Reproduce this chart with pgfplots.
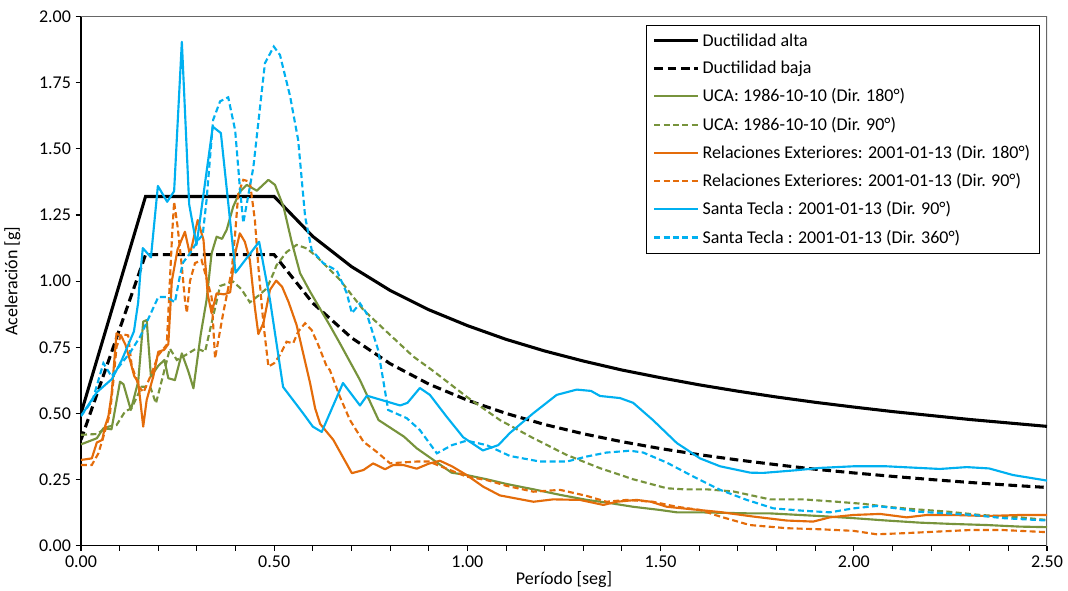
\documentclass[border=0pt]{standalone}
\usepackage{pgfplots}
\pgfplotsset{compat=1.18}
\usepackage{fontspec}
\setmainfont{Carlito}
\definecolor{cgreen}{HTML}{77933C}
\definecolor{corange}{HTML}{E46C0A}
\definecolor{ccyan}{HTML}{00B0F0}
\begin{document}
\begin{tikzpicture}
\useasboundingbox (-60.75pt,-34pt) rectangle (740.25pt,409.25pt);
\begin{axis}[
  scale only axis,
  width=724.5pt, height=396.75pt,
  xmin=0, xmax=2.5, ymin=0, ymax=2,
  axis x line*=bottom, axis y line*=left,
  axis line style={black, line width=1.1pt, -},
  xtick={0,0.5,1,1.5,2,2.5},
  minor xtick={0.1,0.2,0.3,0.4,0.6,0.7,0.8,0.9,1.1,1.2,1.3,1.4,1.6,1.7,1.8,1.9,2.1,2.2,2.3,2.4},
  ytick={0,0.25,0.5,0.75,1,1.25,1.5,1.75,2},
  tick align=outside,
  major tick length=4pt, minor tick length=4pt,
  tick style={black, line width=0.8pt},
  font=\fontsize{13.5}{16}\selectfont,
  ticklabel style={font=\fontsize{13.5}{16}\selectfont},
  /pgf/number format/assume math mode=true,
  /pgf/number format/fixed, /pgf/number format/fixed zerofill, /pgf/number format/precision=2,
  xlabel={Período [seg]}, ylabel={Aceleración [g]},
  xlabel style={font=\fontsize{13.5}{16}\selectfont, yshift=4pt},
  ylabel style={font=\fontsize{13.5}{16}\selectfont, yshift=7pt},
  legend cell align=left,
  legend style={at={(rel axis cs:0.9928,0.984)}, anchor=north east, draw=black, line width=0.8pt,
    font=\fontsize{13.5}{16}\selectfont, row sep=5.8pt, inner xsep=5pt, inner ysep=4pt},
  legend image code/.code={\draw[#1] (0pt,0pt) -- (33pt,0pt);},
]
\draw[gray!80!black, line width=0.8pt] (rel axis cs:0,1) -- (rel axis cs:1,1) -- (rel axis cs:1,0);
% Ductilidad alta
\addplot[black, line width=2.3pt] coordinates {
(0,0.5) (0.167,1.32) (0.5,1.32) (0.6,1.169) (0.7,1.055) (0.8,0.965) (0.9,0.892) (1.0,0.832)
(1.1,0.780) (1.2,0.736) (1.3,0.698) (1.4,0.664) (1.5,0.635) (1.6,0.608) (1.7,0.584) (1.8,0.562)
(1.9,0.542) (2.0,0.524) (2.1,0.507) (2.2,0.492) (2.3,0.477) (2.4,0.464) (2.5,0.451)};
\addlegendentry{Ductilidad alta}
% Ductilidad baja
\addplot[black, line width=2.3pt, dash pattern=on 6.5pt off 3.5pt] coordinates {
(0,0.4) (0.167,1.1) (0.5,1.1) (0.6,0.917) (0.7,0.786) (0.8,0.688) (0.9,0.611) (1.0,0.55)
(1.1,0.5) (1.2,0.458) (1.3,0.423) (1.4,0.393) (1.5,0.367) (1.6,0.344) (1.7,0.324) (1.8,0.306)
(1.9,0.289) (2.0,0.275) (2.1,0.262) (2.2,0.25) (2.3,0.239) (2.4,0.229) (2.5,0.22)};
\addlegendentry{Ductilidad baja}
% UCA 180
\addplot[cgreen, line width=1.6pt, line join=round] coordinates {
(0,0.383) (0.041,0.406) (0.058,0.444) (0.079,0.44) (0.101,0.62) (0.110,0.61) (0.129,0.513)
(0.148,0.62) (0.161,0.847) (0.170,0.853) (0.181,0.639) (0.200,0.68) (0.216,0.702) (0.226,0.633)
(0.243,0.626) (0.261,0.727) (0.278,0.658) (0.291,0.595) (0.310,0.80) (0.325,0.929) (0.338,1.105)
(0.351,1.168) (0.365,1.16) (0.377,1.194) (0.394,1.282) (0.411,1.338) (0.429,1.364) (0.455,1.342)
(0.485,1.383) (0.502,1.364) (0.524,1.282) (0.545,1.15) (0.567,1.03) (0.593,0.96) (0.621,0.89)
(0.645,0.83) (0.670,0.765) (0.722,0.626) (0.770,0.475) (0.836,0.412) (0.869,0.368) (0.912,0.324)
(0.959,0.276) (0.998,0.267) (1.050,0.251) (1.102,0.233) (1.171,0.213) (1.240,0.192) (1.309,0.173)
(1.360,0.163) (1.429,0.147) (1.498,0.135) (1.542,0.126) (1.602,0.126) (1.731,0.122) (1.783,0.122)
(1.912,0.112) (1.999,0.104) (2.085,0.095) (2.171,0.087) (2.257,0.082) (2.344,0.078) (2.430,0.072)
(2.50,0.070)};
\addlegendentry{UCA: 1986-10-10 (Dir. 180°)}
% UCA 90
\addplot[cgreen, line width=1.6pt, dash pattern=on 4.5pt off 2.5pt] coordinates {
(0,0.419) (0.040,0.422) (0.060,0.44) (0.071,0.45) (0.092,0.456) (0.114,0.507) (0.131,0.52)
(0.157,0.601) (0.179,0.601) (0.194,0.538) (0.230,0.745) (0.248,0.702) (0.270,0.72) (0.299,0.746)
(0.321,0.733) (0.360,0.982) (0.394,0.998) (0.415,0.97) (0.437,0.92) (0.459,0.945) (0.481,0.973)
(0.498,1.03) (0.506,1.06) (0.532,1.11) (0.558,1.137) (0.584,1.124) (0.610,1.093) (0.640,1.049)
(0.670,1.005) (0.731,0.891) (0.791,0.809) (0.860,0.715) (0.912,0.66) (0.998,0.563) (1.084,0.475)
(1.171,0.406) (1.257,0.343) (1.343,0.293) (1.429,0.251) (1.516,0.217) (1.560,0.213) (1.619,0.213)
(1.688,0.205) (1.783,0.175) (1.869,0.175) (1.956,0.166) (2.025,0.158) (2.085,0.147) (2.154,0.138)
(2.240,0.129) (2.327,0.116) (2.430,0.107) (2.50,0.097)};
\addlegendentry{UCA: 1986-10-10 (Dir. 90°)}
% RE 180
\addplot[corange, line width=1.6pt, line join=round] coordinates {
(0,0.324) (0.028,0.33) (0.041,0.39) (0.055,0.40) (0.062,0.45) (0.071,0.49) (0.079,0.57)
(0.092,0.803) (0.105,0.79) (0.115,0.76) (0.127,0.70) (0.138,0.64) (0.148,0.62) (0.161,0.45)
(0.170,0.551) (0.187,0.639) (0.200,0.733) (0.215,0.74) (0.226,0.762) (0.235,1.0) (0.250,1.12)
(0.269,1.187) (0.282,1.10) (0.302,1.231) (0.317,1.156) (0.328,0.95) (0.338,0.879) (0.351,0.954)
(0.370,0.95) (0.386,0.958) (0.399,1.105) (0.411,1.181) (0.424,1.149) (0.437,1.08) (0.450,0.90)
(0.459,0.80) (0.472,0.841) (0.489,0.967) (0.505,1.002) (0.520,0.98) (0.537,0.922) (0.558,0.834)
(0.575,0.727) (0.593,0.614) (0.606,0.519) (0.619,0.46) (0.653,0.40) (0.701,0.274) (0.731,0.286)
(0.756,0.311) (0.787,0.289) (0.808,0.305) (0.834,0.305) (0.869,0.291) (0.900,0.31) (0.929,0.321)
(0.960,0.30) (0.998,0.267) (1.041,0.223) (1.084,0.19) (1.171,0.166) (1.222,0.175) (1.291,0.173)
(1.352,0.154) (1.386,0.166) (1.438,0.173) (1.475,0.166) (1.516,0.147) (1.585,0.137) (1.654,0.127)
(1.740,0.11) (1.826,0.095) (1.895,0.091) (1.938,0.107) (1.999,0.116) (2.068,0.12) (2.137,0.107)
(2.189,0.116) (2.257,0.116) (2.344,0.112) (2.430,0.116) (2.50,0.116)};
\addlegendentry{Relaciones Exteriores: 2001-01-13 (Dir. 180°)}
% RE 90
\addplot[corange, line width=1.6pt, dash pattern=on 4.5pt off 2.5pt] coordinates {
(0,0.305) (0.028,0.305) (0.045,0.349) (0.058,0.412) (0.075,0.50) (0.084,0.626) (0.092,0.752)
(0.105,0.80) (0.122,0.795) (0.131,0.683) (0.150,0.60) (0.162,0.58) (0.183,0.652) (0.200,0.72)
(0.222,0.76) (0.230,1.00) (0.236,1.18) (0.241,1.30) (0.250,1.206) (0.261,1.055) (0.269,0.929)
(0.274,0.88) (0.282,1.00) (0.295,1.068) (0.312,1.08) (0.338,0.94) (0.347,0.708) (0.368,0.879)
(0.390,1.04) (0.399,1.181) (0.407,1.33) (0.420,1.383) (0.437,1.376) (0.450,1.231) (0.459,1.055)
(0.472,0.841) (0.485,0.677) (0.500,0.69) (0.515,0.721) (0.532,0.771) (0.549,0.765) (0.562,0.809)
(0.580,0.841) (0.597,0.815) (0.614,0.759) (0.636,0.677) (0.644,0.664) (0.670,0.563) (0.696,0.475)
(0.731,0.393) (0.765,0.355) (0.800,0.311) (0.826,0.314) (0.869,0.318) (0.903,0.318) (0.912,0.311)
(0.955,0.286) (0.998,0.261) (1.050,0.248) (1.102,0.226) (1.171,0.204) (1.240,0.211) (1.309,0.188)
(1.360,0.166) (1.412,0.173) (1.480,0.166) (1.542,0.147) (1.602,0.135) (1.654,0.11) (1.731,0.078)
(1.826,0.066) (1.912,0.062) (1.999,0.056) (2.059,0.043) (2.128,0.047) (2.214,0.053) (2.300,0.059)
(2.387,0.059) (2.50,0.051)};
\addlegendentry{Relaciones Exteriores: 2001-01-13 (Dir. 90°)}
% ST 90
\addplot[ccyan, line width=1.6pt, line join=round] coordinates {
(0,0.49) (0.041,0.58) (0.080,0.63) (0.105,0.70) (0.137,0.81) (0.148,0.92) (0.153,1.02) (0.160,1.125)
(0.181,1.09) (0.199,1.36) (0.223,1.30) (0.241,1.34) (0.261,1.905) (0.280,1.29) (0.299,1.137)
(0.341,1.584) (0.362,1.56) (0.400,1.032) (0.461,1.149) (0.489,0.93) (0.523,0.60) (0.575,0.50)
(0.600,0.45) (0.623,0.43) (0.678,0.615) (0.722,0.53) (0.740,0.567) (0.791,0.545) (0.826,0.53)
(0.845,0.54) (0.877,0.596) (0.903,0.57) (0.946,0.488) (0.989,0.41) (1.040,0.36) (1.080,0.38)
(1.110,0.426) (1.170,0.50) (1.231,0.57) (1.283,0.59) (1.320,0.585) (1.343,0.566) (1.395,0.558)
(1.429,0.54) (1.480,0.475) (1.542,0.388) (1.602,0.33) (1.654,0.30) (1.732,0.276) (1.765,0.275)
(1.850,0.285) (1.913,0.294) (1.998,0.30) (2.085,0.30) (2.223,0.29) (2.292,0.297) (2.350,0.292)
(2.412,0.267) (2.50,0.246)};
\addlegendentry{Santa Tecla : 2001-01-13 (Dir. 90°)}
% ST 360
\addplot[ccyan, line width=1.6pt, dash pattern=on 4.5pt off 2.5pt] coordinates {
(0,0.49) (0.030,0.55) (0.058,0.69) (0.079,0.64) (0.100,0.68) (0.127,0.73) (0.153,0.79) (0.200,0.94)
(0.222,0.94) (0.243,0.92) (0.256,1.02) (0.264,1.07) (0.282,1.105) (0.303,1.155) (0.315,1.175)
(0.325,1.307) (0.342,1.61) (0.360,1.68) (0.381,1.695) (0.399,1.57) (0.411,1.357) (0.420,1.22)
(0.430,1.30) (0.446,1.43) (0.476,1.824) (0.499,1.887) (0.515,1.855) (0.541,1.70) (0.562,1.534)
(0.580,1.244) (0.597,1.118) (0.627,1.068) (0.662,1.04) (0.688,0.954) (0.701,0.879) (0.722,0.916)
(0.739,0.879) (0.769,0.74) (0.795,0.513) (0.843,0.482) (0.877,0.437) (0.921,0.349) (0.960,0.38)
(0.998,0.397) (1.050,0.38) (1.110,0.339) (1.188,0.318) (1.257,0.318) (1.309,0.337) (1.360,0.352)
(1.421,0.359) (1.455,0.352) (1.516,0.314) (1.585,0.261) (1.654,0.211) (1.723,0.173) (1.792,0.141)
(1.869,0.132) (1.938,0.126) (1.999,0.141) (2.059,0.150) (2.111,0.141) (2.171,0.128) (2.240,0.122)
(2.309,0.116) (2.387,0.104) (2.50,0.095)};
\addlegendentry{Santa Tecla : 2001-01-13 (Dir. 360°)}
\end{axis}
\end{tikzpicture}
\end{document}
